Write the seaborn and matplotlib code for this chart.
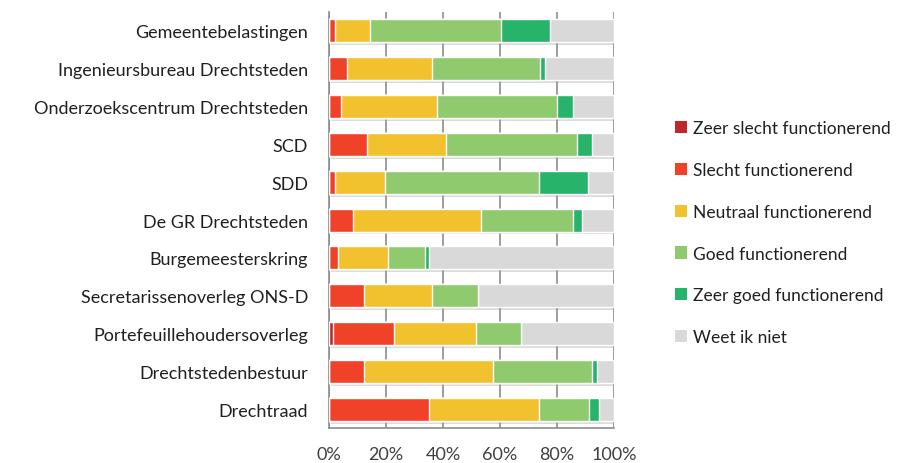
import pandas as pd
import seaborn as sns
import matplotlib.pyplot as plt
from matplotlib.patches import Patch
import matplotlib.patheffects as pe

categories = [
    "Gemeentebelastingen",
    "Ingenieursbureau Drechtsteden",
    "Onderzoekscentrum Drechtsteden",
    "SCD",
    "SDD",
    "De GR Drechtsteden",
    "Burgemeesterskring",
    "Secretarissenoverleg ONS-D",
    "Portefeuillehoudersoverleg",
    "Drechtstedenbestuur",
    "Drechtraad",
]

zeer_slecht = [0, 0, 0, 0, 0, 0, 0, 0, 1.5, 0, 0]
slecht = [2.0, 6.4, 4.1, 13.4, 2.1, 8.3, 3.0, 12.4, 21.2, 12.4, 35.1]
neutraal = [12.4, 29.6, 33.7, 27.7, 17.5, 45.0, 17.6, 23.6, 28.8, 45.0, 38.4]
goed = [46.0, 38.0, 42.3, 45.9, 54.0, 32.3, 13.1, 16.4, 15.8, 34.8, 17.8]
zeer_goed = [17.1, 1.8, 5.4, 5.2, 17.2, 3.1, 1.4, 0, 0, 1.7, 3.5]
weet_niet = [22.5, 24.2, 14.5, 7.8, 9.2, 11.3, 64.9, 47.6, 32.7, 6.1, 5.2]

series_names = [
    "Zeer slecht functionerend",
    "Slecht functionerend",
    "Neutraal functionerend",
    "Goed functionerend",
    "Zeer goed functionerend",
    "Weet ik niet",
]
colors = ["#C0272D", "#F04229", "#F2C12E", "#8FCA6E", "#27B36A", "#D9D9D9"]

sns.set_theme(style="white")
plt.rcParams["font.family"] = ["Lato", "DejaVu Sans"]

df = pd.DataFrame({"categorie": categories})
series = [zeer_slecht, slecht, neutraal, goed, zeer_goed, weet_niet]
running = [0.0] * len(categories)
cums = []
for s in series:
    running = [a + b for a, b in zip(running, s)]
    cums.append(running)

fig = plt.figure(figsize=(9, 4.64), dpi=100)
ax = fig.add_axes([0.3656, 0.075, 0.3167, 0.897])

shadow = [pe.SimplePatchShadow(offset=(1.5, -2), shadow_rgbFace="#9a9a9a", alpha=0.35), pe.Normal()]

# draw cumulative totals from the outermost layer inward
for name, cum, col in reversed(list(zip(series_names, cums, colors))):
    d = df.copy()
    d["waarde"] = cum
    sns.barplot(data=d, x="waarde", y="categorie", color=col, orient="h", saturation=1,
                width=0.61, edgecolor="white", linewidth=1.0, ax=ax, zorder=3)

# shadow only on the outermost (full) bars
for p in ax.patches[:len(categories)]:
    p.set_path_effects(shadow)

ax.set_xlim(0, 100)
ax.set_ylim(len(categories) - 0.5, -0.5)
ax.set_xticks([0, 20, 40, 60, 80, 100])
ax.set_xticklabels(["0%", "20%", "40%", "60%", "80%", "100%"], fontsize=13, color="#404040")
ax.tick_params(axis="y", labelsize=13, labelcolor="#202020", length=0, pad=15)
ax.tick_params(axis="x", length=0, pad=13)
ax.set_xlabel("")
ax.set_ylabel("")
ax.grid(axis="x", color="#8c8c8c", linewidth=1.2, zorder=0)
ax.set_axisbelow(True)
for side in ["top", "right"]:
    ax.spines[side].set_visible(False)
for side in ["left", "bottom"]:
    ax.spines[side].set_color("#8c8c8c")
    ax.spines[side].set_linewidth(1.2)

handles = [Patch(facecolor=c, edgecolor="none") for c in colors]
fig.legend(handles, series_names, loc="upper left", bbox_to_anchor=(0.733, 0.772),
           frameon=False, fontsize=12.5, handlelength=0.7, handleheight=0.7,
           handletextpad=0.3, labelspacing=1.48, labelcolor="#202020")

plt.savefig("out.png", dpi=100)
plt.close()
